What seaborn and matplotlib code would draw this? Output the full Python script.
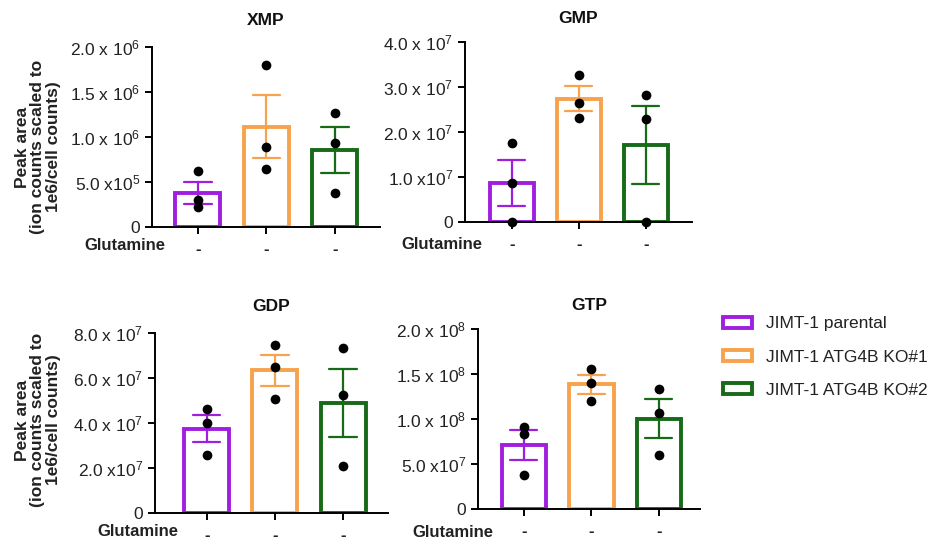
import numpy as np
import pandas as pd
import matplotlib
matplotlib.use("Agg")
import matplotlib.pyplot as plt
from matplotlib.patches import Patch
import seaborn as sns

# ---------------- data ----------------
groups = ["JIMT-1 parental", "JIMT-1 ATG4B KO#1", "JIMT-1 ATG4B KO#2"]
colors = ["#A01EE0", "#F7A24D", "#176A17"]
titles = ["XMP", "GMP", "GDP", "GTP"]

xmp_parental = [0.622e6, 0.300e6, 0.226e6]
xmp_ko1 = [1.80e6, 0.89e6, 0.65e6]
xmp_ko2 = [1.263e6, 0.93e6, 0.38e6]

gmp_parental = [1.756e7, 0.86e7, 0.0]
gmp_ko1 = [3.26e7, 2.64e7, 2.32e7]
gmp_ko2 = [2.83e7, 2.30e7, 0.0]

gdp_parental = [4.62e7, 4.00e7, 2.59e7]
gdp_ko1 = [7.48e7, 6.47e7, 5.07e7]
gdp_ko2 = [7.33e7, 5.26e7, 2.07e7]

gtp_parental = [9.07e7, 8.37e7, 3.81e7]
gtp_ko1 = [15.56e7, 14.00e7, 11.96e7]
gtp_ko2 = [13.37e7, 10.67e7, 6.04e7]

xmp_ticks = [0, 0.5e6, 1.0e6, 1.5e6, 2.0e6]
xmp_ticklabels = ["0", "5.0 x10$^{5}$", "1.0 x 10$^{6}$", "1.5 x 10$^{6}$", "2.0 x 10$^{6}$"]
gmp_ticks = [0, 1e7, 2e7, 3e7, 4e7]
gmp_ticklabels = ["0", "1.0 x10$^{7}$", "2.0 x 10$^{7}$", "3.0 x 10$^{7}$", "4.0 x 10$^{7}$"]
gdp_ticks = [0, 2e7, 4e7, 6e7, 8e7]
gdp_ticklabels = ["0", "2.0 x10$^{7}$", "4.0 x 10$^{7}$", "6.0 x 10$^{7}$", "8.0 x 10$^{7}$"]
gtp_ticks = [0, 5e7, 1e8, 1.5e8, 2e8]
gtp_ticklabels = ["0", "5.0 x10$^{7}$", "1.0 x 10$^{8}$", "1.5 x 10$^{8}$", "2.0 x 10$^{8}$"]

x_ticklabels = ["-", "-", "-"]
condition_label = "Glutamine"
ylabel_text = "Peak area\n(ion counts scaled to\n1e6/cell counts)"

panels = [
    (titles[0], [xmp_parental, xmp_ko1, xmp_ko2], xmp_ticks, xmp_ticklabels),
    (titles[1], [gmp_parental, gmp_ko1, gmp_ko2], gmp_ticks, gmp_ticklabels),
    (titles[2], [gdp_parental, gdp_ko1, gdp_ko2], gdp_ticks, gdp_ticklabels),
    (titles[3], [gtp_parental, gtp_ko1, gtp_ko2], gtp_ticks, gtp_ticklabels),
]

# ---------------- layout ----------------
W, H = 948, 544
# (left, top, right, bottom) in pixels
boxes = [(152, 47, 380, 227), (465, 42, 692, 222), (155, 333, 388, 513), (478, 329, 700, 509)]
xlims = [(-0.67, 2.66), (-0.70, 2.69), (-0.76, 2.66), (-0.68, 2.61)]
glut_pos = [(0.057, -0.105), (0.075, -0.125), (0.099, -0.10), (0.068, -0.13)]
title_pads = [16, 14, 16, 14]

sns.set_theme(style="ticks")
plt.rcParams["font.family"] = ["Liberation Sans", "DejaVu Sans"]
plt.rcParams["mathtext.fontset"] = "custom"
plt.rcParams["mathtext.rm"] = "Liberation Sans"
plt.rcParams["mathtext.default"] = "regular"

fig = plt.figure(figsize=(W / 100, H / 100), dpi=100)
fig.patch.set_facecolor("white")

for i, (title, vals, yt, ytl) in enumerate(panels):
    l, t, r, b = boxes[i]
    ax = fig.add_axes([l / W, 1 - b / H, (r - l) / W, (b - t) / H])
    df = pd.DataFrame({
        "group": np.repeat(groups, [len(v) for v in vals]),
        "value": np.concatenate([np.asarray(v, dtype=float) for v in vals]),
    })
    sns.barplot(data=df, x="group", y="value", hue="group", order=groups,
                hue_order=groups, palette=colors, fill=False, dodge=False,
                errorbar="se", capsize=0.4, linewidth=2.8, width=0.66,
                err_kws={"linewidth": 1.6}, legend=False, ax=ax)
    sns.stripplot(data=df, x="group", y="value", order=groups, color="black",
                  jitter=False, size=7, ax=ax, zorder=4)
    for coll in ax.collections:
        coll.set_clip_on(False)
    ax.set_xlim(*xlims[i])
    ax.set_ylim(0, yt[-1])
    ax.set_yticks(yt)
    ax.set_yticklabels(ytl, fontsize=12.5)
    ax.set_xticks([0, 1, 2])
    ax.set_xticklabels(x_ticklabels, fontsize=12, fontweight="bold")
    ax.set_xlabel("")
    ax.set_ylabel("")
    ax.set_title(title, fontsize=12.5, fontweight="bold", pad=title_pads[i], color="#111111")
    sns.despine(ax=ax)
    for sp in ("left", "bottom"):
        ax.spines[sp].set_linewidth(1.4)
        ax.spines[sp].set_color("black")
    ax.tick_params(axis="both", length=5, width=1.4, color="black", labelcolor="#222222")
    ax.tick_params(axis="x", pad=6)
    ax.set_facecolor("white")
    gx, gy = glut_pos[i]
    ax.text(gx, gy, condition_label, transform=ax.transAxes, ha="right", va="center",
            fontsize=12, fontweight="bold", color="#222222")

fig.text(38 / W, 1 - 147 / H, ylabel_text, rotation=90, ha="center", va="center",
         fontsize=12.5, fontweight="bold", linespacing=1.05, color="#222222")
fig.text(38 / W, 1 - 420 / H, ylabel_text, rotation=90, ha="center", va="center",
         fontsize=12.5, fontweight="bold", linespacing=1.05, color="#222222")

handles = [Patch(facecolor="white", edgecolor=c, linewidth=2.8, label=g)
           for g, c in zip(groups, colors)]
fig.legend(handles=handles, loc="center left", bbox_to_anchor=(707 / W, 1 - 357 / H),
           frameon=False, fontsize=12.5, handlelength=1.7, handleheight=0.6,
           labelspacing=1.05, handletextpad=0.8, labelcolor="#222222")

fig.savefig("out.png", dpi=100, facecolor="white")
